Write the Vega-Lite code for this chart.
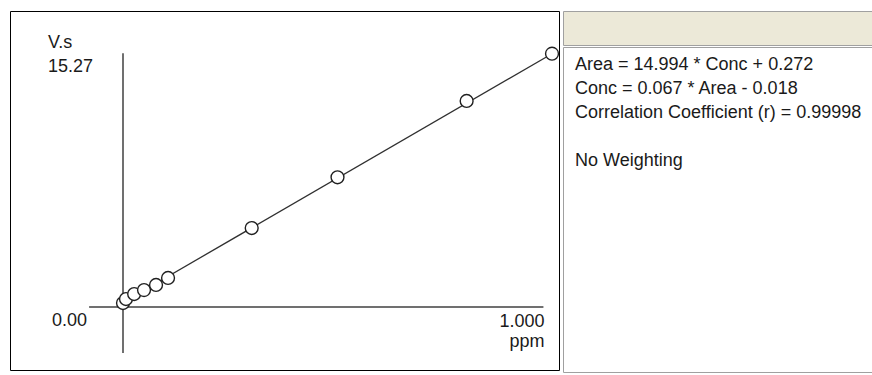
{
  "$schema": "https://vega.github.io/schema/vega-lite/v6.json",
  "background": "#ffffff",
  "padding": {"left": 9, "top": 10, "right": 0, "bottom": 0},
  "config": {"font": "Liberation Sans", "concat": {"spacing": 0}},
  "spacing": 0,
  "vconcat": [
    {
      "spacing": 0,
      "hconcat": [
        {
          "width": 549,
          "height": 359,
          "view": {"fill": "#ffffff", "stroke": "#000000", "strokeWidth": 1},
          "encoding": {
            "x": {"field": "x", "type": "quantitative", "scale": {"domain": [-0.2634, 1.0163], "nice": false, "zero": false}, "axis": null},
            "y": {"field": "y", "type": "quantitative", "scale": {"domain": [-3.797, 17.842], "nice": false, "zero": false}, "axis": null}
          },
          "layer": [
            {
              "data": {"values": [{"x": 0, "y": -2.77, "y2": 15.3}]},
              "mark": {"type": "rule", "color": "#707070", "strokeWidth": 2},
              "encoding": {"y2": {"field": "y2"}}
            },
            {
              "data": {"values": [{"x": -0.079, "x2": 0.98, "y": 0}]},
              "mark": {"type": "rule", "color": "#707070", "strokeWidth": 2},
              "encoding": {"x2": {"field": "x2"}}
            },
            {
              "data": {"values": [{"x": 0, "y": 0.272}, {"x": 1.0, "y": 15.266}]},
              "mark": {"type": "line", "color": "#303030", "strokeWidth": 1.3},
              "encoding": {}
            },
            {
              "data": {"values": [
                {"x": 0.0, "y": 0.24},
                {"x": 0.007, "y": 0.48},
                {"x": 0.026, "y": 0.78},
                {"x": 0.049, "y": 1.02},
                {"x": 0.077, "y": 1.33},
                {"x": 0.105, "y": 1.75},
                {"x": 0.3, "y": 4.76},
                {"x": 0.5, "y": 7.82},
                {"x": 0.801, "y": 12.42},
                {"x": 1.0, "y": 15.27}
              ]},
              "mark": {"type": "point", "shape": "circle", "size": 165, "filled": false, "fill": "#ffffff", "fillOpacity": 1, "stroke": "#202020", "strokeWidth": 1.4, "opacity": 1},
              "encoding": {}
            },
            {
              "data": {"values": [{"x": 0, "y": 15.27, "label": "V.s"}]},
              "mark": {"type": "text", "align": "left", "baseline": "alphabetic", "dx": -75, "dy": -6, "fontSize": 18, "color": "#1a1a1a"},
              "encoding": {"text": {"field": "label"}}
            },
            {
              "data": {"values": [{"x": 0, "y": 15.27, "label": "15.27"}]},
              "mark": {"type": "text", "align": "left", "baseline": "alphabetic", "dx": -75, "dy": 18, "fontSize": 18, "color": "#1a1a1a"},
              "encoding": {"text": {"field": "label"}}
            },
            {
              "data": {"values": [{"x": 0, "y": 0, "label": "0.00"}]},
              "mark": {"type": "text", "align": "right", "baseline": "alphabetic", "dx": -36, "dy": 19, "fontSize": 18, "color": "#1a1a1a"},
              "encoding": {"text": {"field": "label"}}
            },
            {
              "data": {"values": [{"x": 0.98, "y": 0, "label": "1.000"}]},
              "mark": {"type": "text", "align": "right", "baseline": "alphabetic", "dx": 1, "dy": 20, "fontSize": 18, "color": "#1a1a1a"},
              "encoding": {"text": {"field": "label"}}
            },
            {
              "data": {"values": [{"x": 0.98, "y": 0, "label": "ppm"}]},
              "mark": {"type": "text", "align": "right", "baseline": "alphabetic", "dx": 1, "dy": 40, "fontSize": 18, "color": "#1a1a1a"},
              "encoding": {"text": {"field": "label"}}
            }
          ]
        },
        {
          "spacing": 0,
          "vconcat": [
            {
              "width": 314,
              "height": 34,
              "view": {"fill": "#ece9d8", "stroke": "#a0a0a0"},
              "data": {"values": [{"t": ""}]},
              "mark": {"type": "text"},
              "encoding": {"text": {"field": "t"}}
            },
            {
              "width": 314,
              "height": 325,
              "view": {"fill": "#ffffff", "stroke": "#a0a0a0"},
              "data": {"values": [
                {"col": 0, "row": 1, "line": "Area = 14.994 * Conc + 0.272"},
                {"col": 0, "row": 2, "line": "Conc = 0.067 * Area - 0.018"},
                {"col": 0, "row": 3, "line": "Correlation Coefficient (r) = 0.99998"},
                {"col": 0, "row": 5, "line": "No Weighting"}
              ]},
              "mark": {"type": "text", "align": "left", "baseline": "alphabetic", "fontSize": 18, "color": "#1a1a1a", "dy": -1},
              "encoding": {
                "x": {"field": "col", "type": "quantitative", "scale": {"domain": [-12, 302], "nice": false, "zero": false}, "axis": null},
                "y": {"field": "row", "type": "quantitative", "scale": {"domain": [0, 13.542], "nice": false, "zero": false, "reverse": true}, "axis": null},
                "text": {"field": "line"}
              }
            }
          ]
        }
      ]
    },
    {
      "width": 863,
      "height": 6,
      "view": {"fill": "#f1efe6", "stroke": null},
      "data": {"values": [{"t": ""}]},
      "mark": {"type": "text"},
      "encoding": {"text": {"field": "t"}}
    }
  ]
}
